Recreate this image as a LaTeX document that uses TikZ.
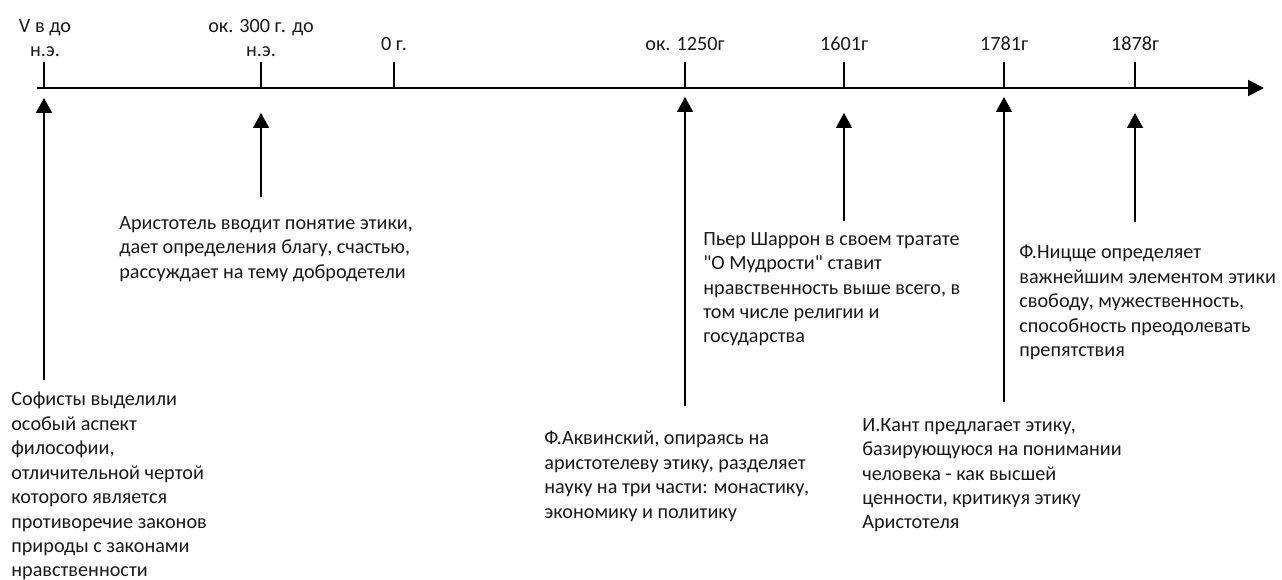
\documentclass[tikz,border=0pt]{standalone}
\usepackage{fontspec}
\setmainfont{Carlito}
\usepackage{xcolor}
\usepackage{tikz}
\usetikzlibrary{arrows.meta, positioning}

\tikzset{
    metka/.style={font=\fontsize{11.5}{13.9}\selectfont, align=center, inner sep=0pt, text=black!90},
    sobytie/.style={font=\fontsize{11.5}{13.9}\selectfont, align=left, anchor=north west, inner sep=0pt, text=black!90},
    strelka/.style={-{Triangle[length=0.3cm, width=0.32cm]}, line width=0.9pt},
    chertochka/.style={line width=0.8pt}
}

\begin{document}
\begin{tikzpicture}[x=0.02cm, y=-0.02cm]
    \useasboundingbox (0,0) rectangle (1282,580);

    % Ось времени
    \coordinate (o0) at (37,88);
    \coordinate (o1) at (1264,88);
    \draw[-{Triangle[length=0.32cm, width=0.32cm]}, line width=1.1pt] (o0) -- (o1);

    % Засечки
    \coordinate (d1) at (44,88);   \coordinate (d1v) at (44,62);
    \coordinate (d2) at (261,88);  \coordinate (d2v) at (261,62);
    \coordinate (d3) at (394,88);  \coordinate (d3v) at (394,62);
    \coordinate (d4) at (685,88);  \coordinate (d4v) at (685,62);
    \coordinate (d5) at (844,88);  \coordinate (d5v) at (844,62);
    \coordinate (d6) at (1004,88); \coordinate (d6v) at (1004,62);
    \coordinate (d7) at (1135,88); \coordinate (d7v) at (1135,62);
    \draw[chertochka] (d1) -- (d1v);
    \draw[chertochka] (d2) -- (d2v);
    \draw[chertochka] (d3) -- (d3v);
    \draw[chertochka] (d4) -- (d4v);
    \draw[chertochka] (d5) -- (d5v);
    \draw[chertochka] (d6) -- (d6v);
    \draw[chertochka] (d7) -- (d7v);

    % Даты
    \node[metka] (god1) at (45,38) {V в до\\н.э.};
    \node[metka] (god2) at (261,38) {ок. 300 г. до\\н.э.};
    \node[metka] (god3) at (394,44) {0 г.};
    \node[metka] (god4) at (685,44) {ок. 1250г};
    \node[metka] (god5) at (844,44) {1601г};
    \node[metka] (god6) at (1004,44) {1781г};
    \node[metka] (god7) at (1135,44) {1878г};

    % События
    \node[sobytie] (sofisty) at (11,392) {Софисты выделили\\особый аспект\\философии,\\отличительной чертой\\которого является\\противоречие законов\\природы с законами\\нравственности};
    \node[sobytie] (aristotel) at (119,216) {Аристотель вводит понятие этики,\\дает определения благу, счастью,\\рассуждает на тему добродетели};
    \node[sobytie] (akvinsky) at (544,431) {Ф.Аквинский, опираясь на\\аристотелеву этику, разделяет\\науку на три части: монастику,\\экономику и политику};
    \node[sobytie] (sharron) at (703,232) {Пьер Шаррон в своем тратате\\\textquotedbl О Мудрости\textquotedbl{} ставит\\нравственность выше всего, в\\том числе религии и\\государства};
    \node[sobytie] (kant) at (862,418) {И.Кант предлагает этику,\\базирующуюся на понимании\\человека - как высшей\\ценности, критикуя этику\\Аристотеля};
    \node[sobytie] (nicshe) at (1019,245) {Ф.Ницще определяет\\важнейшим элементом этики\\свободу, мужественность,\\способность преодолевать\\препятствия};

    % Стрелки
    \coordinate (s1) at (44,380);  \coordinate (e1) at (44,98);
    \coordinate (s2) at (261,197); \coordinate (e2) at (261,113);
    \coordinate (s3) at (685,406); \coordinate (e3) at (685,97);
    \coordinate (s4) at (844,221); \coordinate (e4) at (844,113);
    \coordinate (s5) at (1004,402); \coordinate (e5) at (1004,97);
    \coordinate (s6) at (1135,222); \coordinate (e6) at (1135,113);
    \draw[strelka] (s1) -- (e1);
    \draw[strelka] (s2) -- (e2);
    \draw[strelka] (s3) -- (e3);
    \draw[strelka] (s4) -- (e4);
    \draw[strelka] (s5) -- (e5);
    \draw[strelka] (s6) -- (e6);
\end{tikzpicture}
\end{document}
